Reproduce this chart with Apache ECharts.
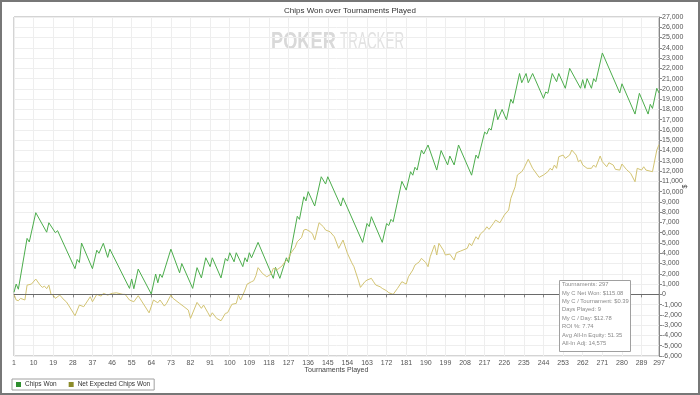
<!DOCTYPE html>
<html><head><meta charset="utf-8">
<script src="https://cdn.jsdelivr.net/npm/echarts@6/dist/echarts.min.js"></script>
<style>html,body{margin:0;padding:0;background:#fff}#c{width:700px;height:395px}</style>
</head><body><div id="c"></div>
<script>
// ---- data ----
const tournamentCount = 297;
const xTickLabels = [1,10,19,28,37,46,55,64,73,82,91,100,109,118,127,136,145,154,163,172,181,190,199,208,217,226,235,244,253,262,271,280,289,297];

// Chips Won: tournament number of each visible turning point, and the value there
const chipsWonT = [1,2,3,7,8,11,16,17,20,21,
 29,30,31,32,37,39,40,42,44,45,
 54,55,56,58,64,66,67,68,69,73,
 77,78,83,85,87,89,91,92,96,98,
 99,100,102,103,106,107,108,109,110,113,
 120,121,123,126,127,131,132,134,135,136,
 139,142,144,145,151,152,161,163,164,165,
 170,172,173,174,175,179,181,183,184,185,
 186,188,189,191,195,197,200,201,203,205,
 211,213,214,217,218,219,220,222,223,225,
 227,229,230,233,234,236,237,239,244,245,
 246,248,250,251,254,256,261,262,263,264,
 266,267,268,271,279,280,286,288,292,293,
 294,296,297];
const chipsWonV = [200,1000,500,5450,5100,7950,6050,6970,6000,6200,
 2500,3400,3100,5000,2500,4300,4000,4970,3600,4400,
 580,1500,550,2460,30,1980,1130,1980,1650,4400,
 2100,3000,580,2600,1600,3560,2700,3560,1600,3500,
 3240,4050,3170,4050,2700,3560,3170,4050,3560,5060,
 1560,2630,1560,3560,3100,7600,7300,9500,9100,10000,
 8600,11450,10740,11450,8600,9400,5060,6900,6600,7560,
 5060,6900,6700,7300,7070,11000,10150,11940,11600,12370,
 12100,14050,13660,14540,12100,14000,12600,13470,12600,14540,
 11600,13560,13240,15800,15600,16160,16000,18000,17000,18000,
 17000,19000,18600,21500,20600,21500,20600,21500,19080,19700,
 19570,21500,20700,21500,20060,22000,20060,20900,20060,21000,
 20060,21000,20700,23500,19600,20500,17550,19570,17550,18500,
 18100,20060,19600];

// Net Expected Chips Won
const expectedT = [1,2,3,4,6,7,9,11,13,14,
 15,16,17,18,19,20,22,24,25,26,
 29,31,33,36,37,39,41,42,44,46,
 48,51,52,54,56,58,63,65,67,68,
 70,71,73,74,77,79,81,82,85,87,
 88,90,91,92,94,96,98,99,101,103,
 104,105,106,107,108,110,111,112,113,115,
 117,119,120,122,124,125,127,128,130,131,
 133,134,135,137,138,139,141,143,144,146,
 148,150,152,154,156,157,159,160,162,163,
 165,166,167,169,170,172,173,175,177,179,
 181,182,184,185,187,188,190,191,192,194,
 195,196,198,199,201,203,204,206,209,210,
 211,213,214,215,217,218,219,221,222,224,
 226,228,229,231,232,234,235,237,239,242,
 244,246,247,248,249,250,251,253,254,256,
 257,259,260,261,262,264,266,267,268,270,
 271,273,274,276,277,279,280,282,284,286,
 287,289,290,291,294,296,297];
const expectedV = [0,-550,-620,-390,-550,900,1000,1490,900,680,
 800,550,900,0,-70,-390,-70,-550,-720,-1040,
 -2080,-1040,-1200,-230,-720,0,-170,100,-70,100,
 150,0,0,-550,-720,-130,-1800,-550,-820,-550,
 -1140,-880,-70,-390,-880,-1200,-1530,-2340,-780,-1360,
 -1040,-1790,-2180,-1790,-2340,-2570,-1850,-1790,-970,-880,
 -70,-550,-70,420,1000,1230,1330,1810,2600,2040,
 1710,1980,2530,2430,2760,3080,3510,4000,4580,5120,
 5550,6260,6330,6100,5870,5290,6970,6580,6260,6100,
 5610,4480,5290,4000,3080,2690,1390,680,1230,1390,
 1560,1230,910,740,580,350,160,0,580,1230,
 1000,1710,2370,2850,3170,3510,3080,2690,3660,4800,
 3830,4970,4310,3830,3920,3340,4050,4220,4480,4970,
 4730,5610,5360,5870,6260,6580,6330,6910,7230,6970,
 7720,8210,9350,10480,11620,11940,12270,13150,12270,11390,
 11620,11940,12270,12100,12590,12270,13400,13560,13240,13560,
 14050,13560,12910,13080,12590,12270,12270,12590,12370,13470,
 12910,12420,12810,12590,12170,12100,12690,12170,11780,10960,
 12270,12100,12420,12100,11940,14050,14575];

const statsLines = ['Tournaments: 297','My C Net Won: $115.08','My C / Tournament: $0.39','Days Played: 9',
 'My C / Day: $12.78','ROI %: 7.74','Avg All-In Equity: 51.35','All-In Adj: 14,575'];

// ---- chart ----
const categories = [];
for (let i = 1; i <= tournamentCount; i++) categories.push(String(i));
const tickSet = new Set(xTickLabels);
const showTick = (idx, val) => tickSet.has(Number(val));
const FONT = '"Liberation Sans", Arial, sans-serif';

const chart = echarts.init(document.getElementById('c'), null, {renderer: 'canvas'});
const statsGraphics = statsLines.map((s, i) => ({
  type: 'text', z: 101, x: 562, y: 284.5 + i * 8.4,
  style: {text: s, font: '5.8px ' + FONT, fill: '#8a8a8a', textVerticalAlign: 'middle'}
}));

chart.setOption({
  animation: false,
  backgroundColor: '#fff',
  title: {text: 'Chips Won over Tournaments Played', left: 'center', top: 2,
    textStyle: {fontSize: 8, fontWeight: 'normal', color: '#333', fontFamily: FONT}},
  grid: {left: 14, right: 41, top: 17, bottom: 39, show: true, borderColor: '#a8a8a8', borderWidth: 1,
    containLabel: false, outerBoundsMode: 'none'},
  legend: {left: 12, top: 379, padding: [2, 4], borderColor: '#a0a0a0', borderWidth: 1,
    icon: 'rect', itemWidth: 5, itemHeight: 5, itemGap: 12,
    textStyle: {fontSize: 6.5, color: '#333', fontFamily: FONT, padding: [0, 0, 0, -1]},
    data: [{name: 'Chips Won', itemStyle: {color: '#2f8f2f'}},
           {name: 'Net Expected Chips Won', itemStyle: {color: '#8c8c2a'}}]},
  xAxis: {type: 'category', data: categories, boundaryGap: false,
    axisLine: {lineStyle: {color: '#888'}},
    axisTick: {interval: showTick, length: 3, lineStyle: {color: '#888'}},
    axisLabel: {interval: showTick, fontSize: 7, color: '#555', margin: 4, fontFamily: FONT},
    splitLine: {show: true, interval: showTick, lineStyle: {color: '#eeeeee', width: 1}},
    name: 'Tournaments Played', nameLocation: 'middle', nameGap: 11, nameMoveOverlap: false,
    nameTextStyle: {fontSize: 7, color: '#444', fontFamily: FONT}},
  yAxis: {type: 'value', position: 'right', min: -6000, max: 27000, interval: 1000,
    axisLine: {show: true, lineStyle: {color: '#888'}},
    axisTick: {show: true, length: 3, lineStyle: {color: '#888'}},
    axisLabel: {fontSize: 7, color: '#555', margin: 3, fontFamily: FONT,
      formatter: v => v.toLocaleString('en-US')},
    splitLine: {show: true, lineStyle: {color: '#eeeeee', width: 1}},
    name: '$', nameLocation: 'middle', nameGap: 23, nameRotate: 90, nameMoveOverlap: false,
    nameTextStyle: {fontSize: 7, color: '#444', fontFamily: FONT}},
  series: [
    {name: 'Chips Won', type: 'line', symbol: 'none', z: 3,
     data: chipsWonT.map((t, i) => [String(t), chipsWonV[i]]),
     lineStyle: {color: '#4cad4c', width: 1}, itemStyle: {color: '#2f8f2f'},
     markLine: {silent: true, symbol: 'none', label: {show: false},
       lineStyle: {color: '#6a6a6a', width: 1, type: 'solid'}, data: [{yAxis: 0}]}},
    {name: 'Net Expected Chips Won', type: 'line', symbol: 'none', z: 3,
     data: expectedT.map((t, i) => [String(t), expectedV[i]]),
     lineStyle: {color: '#d3c473', width: 1}, itemStyle: {color: '#8c8c2a'}}
  ],
  graphic: [
    {type: 'rect', z: 200, shape: {x: 1, y: 1, width: 698, height: 393},
     style: {fill: 'none', stroke: '#777', lineWidth: 2}},
    {type: 'text', z: 0, x: 271, y: 30, scaleX: 0.76,
     style: {text: 'POKER', font: 'bold 24px ' + FONT, fill: '#d9d9d9'}},
    {type: 'text', z: 0, x: 340, y: 30, scaleX: 0.56,
     style: {text: 'TRACKER', font: '24px ' + FONT, fill: '#e2e2e2'}},
    {type: 'rect', z: 100, shape: {x: 559.5, y: 280.5, width: 71, height: 71},
     style: {fill: '#fff', stroke: '#a0a0a0', lineWidth: 1}}
  ].concat(statsGraphics)
});
</script>
</body></html>
